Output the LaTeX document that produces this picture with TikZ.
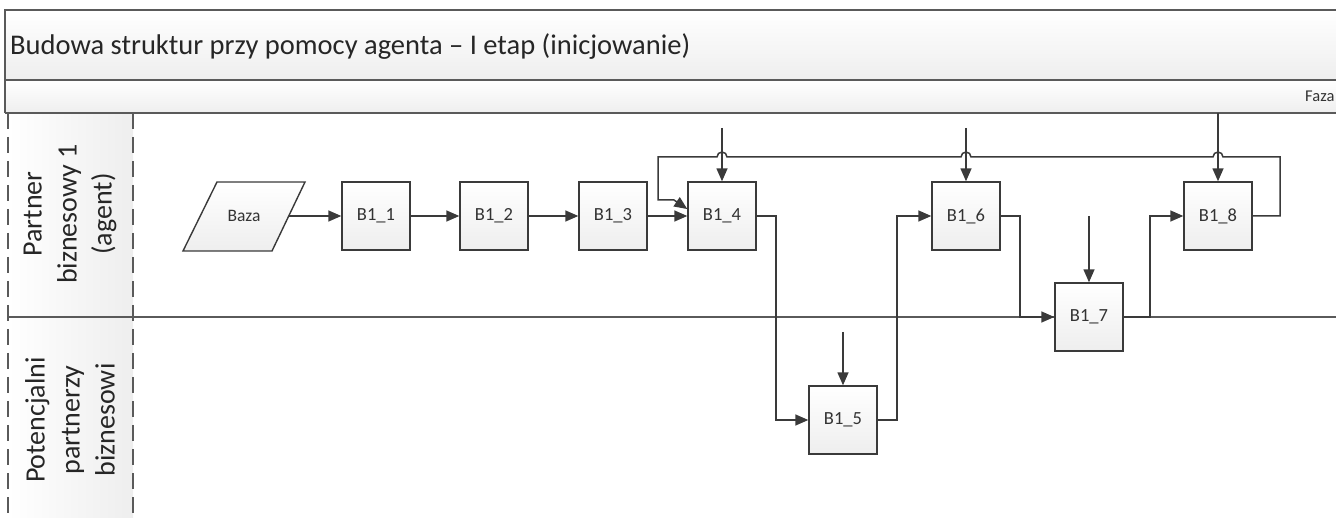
\documentclass[tikz,border=0pt]{standalone}
\usepackage{fontspec}
\setmainfont{Carlito}
\usetikzlibrary{arrows.meta,calc}
\definecolor{ln}{HTML}{3A3A3A}
\definecolor{fr}{HTML}{5A5A5A}
\definecolor{bandbot}{HTML}{EEEEEE}
\begin{document}
\begin{tikzpicture}[x=1pt,y=-1pt,
  stepbox/.style={draw=ln,line width=1.4pt,top color=white,bottom color=bandbot,
    minimum width=68pt,minimum height=68pt,inner sep=0pt,
    font=\fontsize{18.5}{18.5}\selectfont,text=black!80},
  conn/.style={draw=ln,line width=1.5pt,-{Triangle[length=13pt,width=11pt]}},
  frame/.style={draw=fr,line width=1.3pt},
  lanetext/.style={rotate=90,align=center,font=\fontsize{28}{35}\selectfont,text=black!85}]
\useasboundingbox (0,0) rectangle (1336,518);
% bands
\path[top color=white,bottom color=bandbot] (5,10) rectangle (1340,80);
\path[top color=white,bottom color=bandbot] (5,80) rectangle (1340,113);
\path[left color=white,right color=bandbot] (8,113) rectangle (133,520);
\draw[frame] (1340,10) -- (5,10) -- (5,113);
\draw[frame] (5,80) -- (1340,80);
\draw[frame] (5,113) -- (1340,113);
\draw[frame,dash pattern=on 16pt off 8pt] (8,113) -- (8,520);
\draw[frame,dash pattern=on 16pt off 8pt] (133,113) -- (133,520);
\draw[frame] (8,317) -- (1340,317);
\node[anchor=west,font=\fontsize{28.5}{28.5}\selectfont,text=black!85,inner sep=0pt] (title) at (10,47) {Budowa struktur przy pomocy agenta – I etap (inicjowanie)};
\node[anchor=west,font=\fontsize{16.5}{16.5}\selectfont,text=black!80,inner sep=0pt] (faza) at (1305,96) {Faza};
\node[lanetext] (lane1) at (70,214) {Partner\\biznesowy 1\\(agent)};
\node[lanetext] (lane2) at (70,420) {Potencjalni\\partnerzy\\biznesowi};
% Baza parallelogram
\path[draw=ln,line width=1.4pt,top color=white,bottom color=bandbot] (217,182) -- (305,182) -- (272,251) -- (183,251) -- cycle;
\node[minimum width=89pt,minimum height=68pt,inner sep=0pt,font=\fontsize{17.5}{17.5}\selectfont,text=black!80] (baza) at (244,216) {Baza};
% boxes
\node[stepbox] (b1) at (376,216) {B1\_1};
\node[stepbox] (b2) at (494,216) {B1\_2};
\node[stepbox] (b3) at (613,216) {B1\_3};
\node[stepbox] (b4) at (722,216) {B1\_4};
\node[stepbox] (b5) at (843,420) {B1\_5};
\node[stepbox] (b6) at (966,216) {B1\_6};
\node[stepbox] (b7) at (1089,317) {B1\_7};
\node[stepbox] (b8) at (1218,216) {B1\_8};
% free ends
\coordinate (t4) at (722,128);
\coordinate (t6) at (966,128);
\coordinate (t8) at (1218,113);
\coordinate (t7) at (1089,216);
\coordinate (t5) at (843,332);
% connectors
\draw[conn] (baza.east) -- (b1.west);
\draw[conn] (b1) -- (b2);
\draw[conn] (b2) -- (b3);
\draw[conn] (b3) -- (b4);
\draw[conn] (b4.east) -- (776,216) -- (776,420) -- (b5.west);
\draw[conn] (b5.east) -- (897,420) -- (897,216) -- (b6.west);
\draw[conn] (b6.east) -- (1020,216) -- (1020,317) -- (b7.west);
\draw[conn] (b7.east) -- (1150,317) -- (1150,216) -- (b8.west);
\draw[conn] (b8.east) -- (1280,216) -- (1280,157) -- (1223,157) arc (0:-180:5) -- (971,157) arc (0:-180:5) -- (727,157) arc (0:-180:5) -- (658,157) -- (658,200) -- (674,200) -- ($(b4.north west)!0.4!(b4.south west)$);
\draw[conn] (t4) -- (b4.north);
\draw[conn] (t6) -- (b6.north);
\draw[conn] (t8) -- (b8.north);
\draw[conn] (t7) -- (b7.north);
\draw[conn] (t5) -- (b5.north);
\end{tikzpicture}
\end{document}
